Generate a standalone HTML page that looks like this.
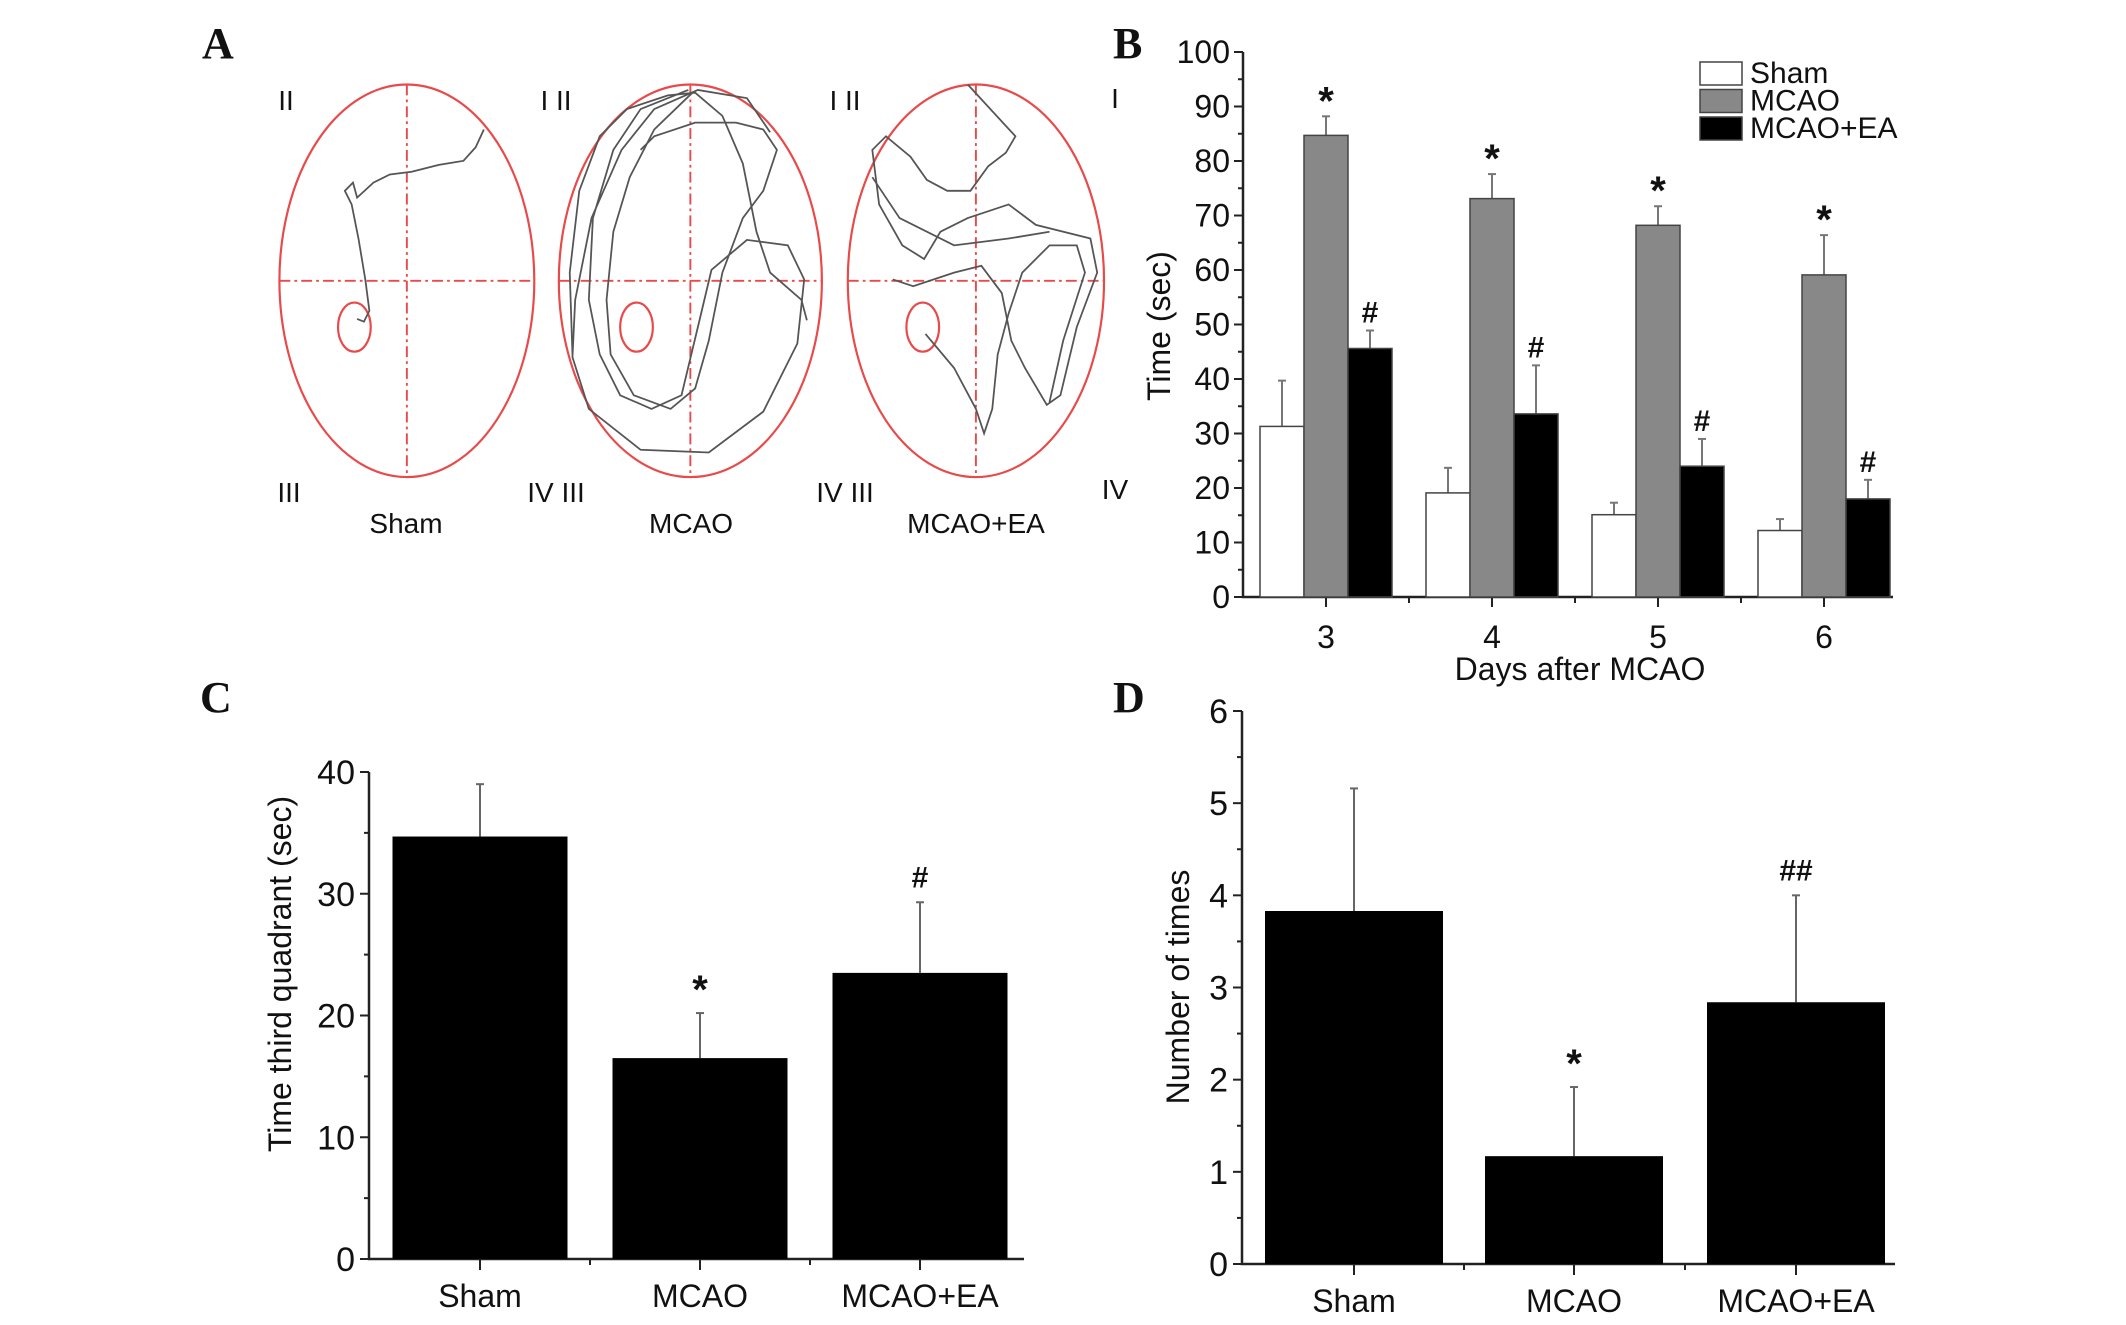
<!DOCTYPE html>
<html><head><meta charset="utf-8">
<style>
html,body{margin:0;padding:0;background:#fff;}
svg{display:block;}
text{font-family:"Liberation Sans Narrow","Liberation Sans",sans-serif;fill:#111;}
.pl{font-family:"Liberation Serif",serif;font-weight:bold;font-size:44px;}
</style></head>
<body>
<svg id="fig" width="2126" height="1325" viewBox="0 0 2126 1325" xmlns="http://www.w3.org/2000/svg">
<text class="pl" x="202" y="58">A</text>
<text class="pl" x="1113" y="58">B</text>
<text class="pl" x="200" y="712">C</text>
<text class="pl" x="1113" y="712">D</text>

<g id="panelA">
 <g transform="scale(1.363)" fill="none">
  <g stroke="#e84a4a" stroke-width="1.6">
   <ellipse cx="298.5" cy="206" rx="93.5" ry="144"/>
   <ellipse cx="506.5" cy="206" rx="96.5" ry="144"/>
   <ellipse cx="716" cy="206" rx="94" ry="144"/>
   <ellipse cx="260" cy="240" rx="12" ry="18"/>
   <ellipse cx="467" cy="240" rx="12" ry="18"/>
   <ellipse cx="677" cy="240" rx="12" ry="18"/>
  </g>
  <g stroke="#e84a4a" stroke-width="1.4" stroke-dasharray="8,3,2,3">
   <line x1="205" y1="206" x2="392" y2="206"/><line x1="298.5" y1="62" x2="298.5" y2="350"/>
   <line x1="410" y1="206" x2="603" y2="206"/><line x1="506.5" y1="62" x2="506.5" y2="350"/>
   <line x1="622" y1="206" x2="810" y2="206"/><line x1="716" y1="62" x2="716" y2="350"/>
  </g>
  <g stroke="#555" stroke-width="1.3">
   <polyline points="355,95 349,108 340,118 322,121 302,126 286,128 274,134 262,145 259,134 253,140 258,150 263,175 268,205 271,228 267,236 262,234"/>
   <polyline points="565,97 548,72 512,66 480,80 456,110 434,160 422,220 420,262 432,300 470,330 520,332 560,302 585,252 590,205 578,180 548,176 522,198 512,240 500,290 478,300 455,290 440,260 432,220 435,160 450,110 470,80 505,66"/>
   <polyline points="508,68 480,95 462,130 450,170 445,220 448,260 465,290 492,300 510,285 520,250 530,200 545,160 560,140 570,110 560,95 540,90 510,90 480,100 470,110"/>
   <polyline points="420,260 418,200 425,140 440,100 460,80 490,70 510,68 530,85 545,120 555,170 565,200 588,220 592,235"/>
   <polyline points="710,62 745,100 738,112 725,122 712,140 695,140 680,132 668,115 650,100 640,110 645,150 662,180 678,190 690,170 710,160 740,150 760,165 800,175 805,200 790,240 778,290 768,297 752,270 742,250 735,215 720,195 700,200 670,210 655,205"/>
   <polyline points="679,245 700,270 716,300 722,318 728,300 732,260 740,230 750,200 770,180 790,180 796,200 780,250 770,295"/>
   <polyline points="640,130 660,160 700,180 740,175 770,170"/>
  </g>
 </g>
 <g font-size="28">
  <text x="286" y="110" text-anchor="middle">II</text>
  <text x="556" y="110" text-anchor="middle">I II</text>
  <text x="845" y="110" text-anchor="middle">I II</text>
  <text x="1115" y="108" text-anchor="middle">I</text>
  <text x="289" y="502" text-anchor="middle">III</text>
  <text x="556" y="502" text-anchor="middle">IV III</text>
  <text x="845" y="502" text-anchor="middle">IV III</text>
  <text x="1115" y="499" text-anchor="middle">IV</text>
  <text x="406" y="533" text-anchor="middle">Sham</text>
  <text x="691" y="533" text-anchor="middle">MCAO</text>
  <text x="976" y="533" text-anchor="middle">MCAO+EA</text>
 </g>
</g>
<g id="panelB"></g>
<g id="panelC"></g>
<g id="panelD"></g>
</svg>
<script>
// Panel B data
const bDays = ["3","4","5","6"];
const bSham = [31.3,19.1,15.1,12.2];
const bShamErr = [39.7,23.7,17.3,14.3];
const bMcao = [84.7,73.1,68.2,59.1];
const bMcaoErr = [88.2,77.6,71.7,66.4];
const bEa = [45.6,33.6,24.0,18.0];
const bEaErr = [48.9,42.5,29.0,21.5];
const bTicks = [0,10,20,30,40,50,60,70,80,90,100];
// Panel C data
const cCats = ["Sham","MCAO","MCAO+EA"];
const cVals = [34.7,16.5,23.5];
const cErr = [39.0,20.2,29.3];
const cMarks = ["","*","#"];
const cTicks = [0,10,20,30,40];
// Panel D data
const dCats = ["Sham","MCAO","MCAO+EA"];
const dVals = [3.83,1.17,2.84];
const dErr = [5.16,1.92,4.0];
const dMarks = ["","*","##"];
const dTicks = [0,1,2,3,4,5,6];

const NS="http://www.w3.org/2000/svg";
function mk(parent,tag,attrs,txt){const e=document.createElementNS(NS,tag);for(const k in attrs)e.setAttribute(k,attrs[k]);if(txt!==undefined)e.textContent=txt;parent.appendChild(e);return e;}
function markSize(m){return m==='*'?40:30;}
function markDy(m){return m==='*'?0:0;}

// ---- Panel B ----
(function(){
 const g=document.getElementById('panelB');
 const x0=1243,x1=1893,y0=597,yTop=52,max=100;
 const ys=v=>y0-(v/max)*(y0-yTop);
 const cx=i=>1326+i*166;
 const bw=44;
 let ax=mk(g,'path',{d:`M${x0},${yTop} V${y0} H${x1}`,stroke:'#222','stroke-width':2.5,fill:'none'});
 
 
 for(let v=0;v<=100;v+=5){const l=mk(g,'line',{x1:x0-(v%10===0?9:5),x2:x0,y1:ys(v),y2:ys(v),stroke:'#222','stroke-width':2});
  
  }
 bTicks.forEach(v=>{const t=mk(g,'text',{x:x0-13,y:ys(v)+11,'text-anchor':'end','font-size':32},String(v));
  
  });
 bDays.forEach((d,i)=>{
  const l=mk(g,'line',{x1:cx(i),x2:cx(i),y1:y0,y2:y0+10,stroke:'#222','stroke-width':2});
  
  
  if(i<bDays.length-1){const m=mk(g,'line',{x1:cx(i)+83,x2:cx(i)+83,y1:y0,y2:y0+6,stroke:'#222','stroke-width':2});
   
   }
  const t=mk(g,'text',{x:cx(i),y:648,'text-anchor':'middle','font-size':32},d);
  
  
 });
 const series=[[bSham,bShamErr,'#fff','',-1],[bMcao,bMcaoErr,'#888','*',0],[bEa,bEaErr,'#000','#',1]];
 series.forEach(([vals,errs,fill,mark,off],si)=>{
  vals.forEach((v,i)=>{
   const c=cx(i)+off*bw;
   const e=mk(g,'line',{x1:c,x2:c,y1:ys(errs[i]),y2:ys(v),stroke:'#777','stroke-width':2});
   
   
   const cap=mk(g,'line',{x1:c-4,x2:c+4,y1:ys(errs[i]),y2:ys(errs[i]),stroke:'#777','stroke-width':2});
   
   
   const r=mk(g,'rect',{x:c-bw/2,y:ys(v),width:bw,height:y0-ys(v),fill:fill,stroke:'#444','stroke-width':1.5});
   
   
   if(mark){const t=mk(g,'text',{x:c,y:ys(errs[i])-(mark==='*'?2:8),'text-anchor':'middle','font-size':markSize(mark),'font-weight':'bold'},mark);
    
    }
  });
 });
 const yt=mk(g,'text',{x:0,y:0,'text-anchor':'middle','font-size':32,transform:'translate(1170,326) rotate(-90)'},'Time (sec)');
 
 
 const xt=mk(g,'text',{x:1580,y:680,'text-anchor':'middle','font-size':32},'Days after MCAO');
 
 
 const leg=[['Sham','#fff'],['MCAO','#888'],['MCAO+EA','#000']];
 leg.forEach(([n,f],i)=>{
  const y=62+i*27.5;
  const r=mk(g,'rect',{x:1700,y:y,width:42,height:23,fill:f,stroke:'#444','stroke-width':1.5});
  
  
  const t=mk(g,'text',{x:1750,y:y+21,'font-size':30},n);
  
  
 });
})();

function barPanel(id,cats,vals,errs,marks,ticks,cfg){
 const g=document.getElementById(id);
 const {x0,x1,y0,yTop,max,minor,centers,bw,title,tx,ty,pfx}=cfg;
 const ys=v=>y0-(v/max)*(y0-yTop);
 const ax=mk(g,'path',{d:`M${x0},${yTop} V${y0} H${x1}`,stroke:'#222','stroke-width':2.5,fill:'none'});
 
 
 for(let v=0;v<=max+1e-9;v+=minor){
  const major=ticks.some(t=>Math.abs(t-v)<1e-9);
  const l=mk(g,'line',{x1:x0-(major?9:5),x2:x0,y1:ys(v),y2:ys(v),stroke:'#222','stroke-width':2});
  
  
 }
 ticks.forEach(v=>{const t=mk(g,'text',{x:x0-14,y:ys(v)+12,'text-anchor':'end','font-size':34},String(v));
  
  });
 cats.forEach((c,i)=>{
  const cx=centers[i];
  const l=mk(g,'line',{x1:cx,x2:cx,y1:y0,y2:y0+11,stroke:'#222','stroke-width':2});
  
  
  if(i<cats.length-1){const mx=(centers[i]+centers[i+1])/2;
   const m=mk(g,'line',{x1:mx,x2:mx,y1:y0,y2:y0+6,stroke:'#222','stroke-width':2});
   
   }
  const e=mk(g,'line',{x1:cx,x2:cx,y1:ys(errs[i]),y2:ys(vals[i]),stroke:'#666','stroke-width':2});
  
  
  const cap=mk(g,'line',{x1:cx-4,x2:cx+4,y1:ys(errs[i]),y2:ys(errs[i]),stroke:'#666','stroke-width':2});
  
  
  const r=mk(g,'rect',{x:cx-bw/2,y:ys(vals[i]),width:bw,height:y0-ys(vals[i]),fill:'#000'});
  
  
  if(marks[i]){const t=mk(g,'text',{x:cx,y:ys(errs[i])-(marks[i]==='*'?10:15),'text-anchor':'middle','font-size':markSize(marks[i]),'font-weight':'bold'},marks[i]);
   
   }
  const lt=mk(g,'text',{x:cx,y:y0+48,'text-anchor':'middle','font-size':32},c);
  
  
 });
 const yt=mk(g,'text',{x:0,y:0,'text-anchor':'middle','font-size':32,transform:`translate(${tx},${ty}) rotate(-90)`},title);
 
 
}
barPanel('panelC',cCats,cVals,cErr,cMarks,cTicks,{x0:369,x1:1024,y0:1259,yTop:772,max:40,minor:5,centers:[480,700,920],bw:175,title:'Time  third quadrant (sec)',tx:291,ty:974,pfx:'c'});
barPanel('panelD',dCats,dVals,dErr,dMarks,dTicks,{x0:1242,x1:1895,y0:1264,yTop:711,max:6,minor:0.5,centers:[1354,1574,1796],bw:178,title:'Number of times',tx:1189,ty:987,pfx:'d'});
</script>
</body></html>
